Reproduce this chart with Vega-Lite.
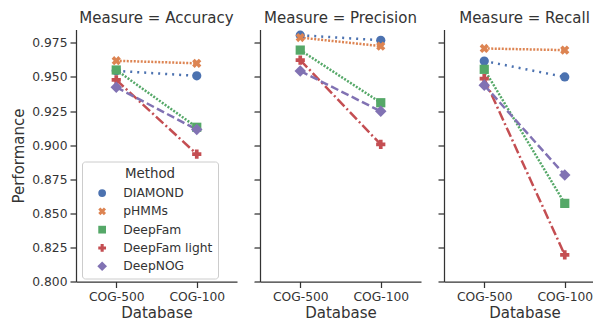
{
  "$schema": "https://vega.github.io/schema/vega-lite/v6.json",
  "background": "white",
  "padding": {"left": 11, "top": 10.5, "right": 0, "bottom": 0},
  "data": {"values": [
    {"Measure": "Accuracy", "Database": "COG-500", "Method": "DIAMOND", "Performance": 0.9545},
    {"Measure": "Accuracy", "Database": "COG-100", "Method": "DIAMOND", "Performance": 0.9508},
    {"Measure": "Accuracy", "Database": "COG-500", "Method": "pHMMs", "Performance": 0.9619},
    {"Measure": "Accuracy", "Database": "COG-100", "Method": "pHMMs", "Performance": 0.9600},
    {"Measure": "Accuracy", "Database": "COG-500", "Method": "DeepFam", "Performance": 0.9551},
    {"Measure": "Accuracy", "Database": "COG-100", "Method": "DeepFam", "Performance": 0.9131},
    {"Measure": "Accuracy", "Database": "COG-500", "Method": "DeepFam light", "Performance": 0.9478},
    {"Measure": "Accuracy", "Database": "COG-100", "Method": "DeepFam light", "Performance": 0.8934},
    {"Measure": "Accuracy", "Database": "COG-500", "Method": "DeepNOG", "Performance": 0.9425},
    {"Measure": "Accuracy", "Database": "COG-100", "Method": "DeepNOG", "Performance": 0.9114},
    {"Measure": "Precision", "Database": "COG-500", "Method": "DIAMOND", "Performance": 0.9806},
    {"Measure": "Precision", "Database": "COG-100", "Method": "DIAMOND", "Performance": 0.9769},
    {"Measure": "Precision", "Database": "COG-500", "Method": "pHMMs", "Performance": 0.9789},
    {"Measure": "Precision", "Database": "COG-100", "Method": "pHMMs", "Performance": 0.9726},
    {"Measure": "Precision", "Database": "COG-500", "Method": "DeepFam", "Performance": 0.9697},
    {"Measure": "Precision", "Database": "COG-100", "Method": "DeepFam", "Performance": 0.9311},
    {"Measure": "Precision", "Database": "COG-500", "Method": "DeepFam light", "Performance": 0.9624},
    {"Measure": "Precision", "Database": "COG-100", "Method": "DeepFam light", "Performance": 0.9005},
    {"Measure": "Precision", "Database": "COG-500", "Method": "DeepNOG", "Performance": 0.9544},
    {"Measure": "Precision", "Database": "COG-100", "Method": "DeepNOG", "Performance": 0.9248},
    {"Measure": "Recall", "Database": "COG-500", "Method": "DIAMOND", "Performance": 0.9617},
    {"Measure": "Recall", "Database": "COG-100", "Method": "DIAMOND", "Performance": 0.9500},
    {"Measure": "Recall", "Database": "COG-500", "Method": "pHMMs", "Performance": 0.9709},
    {"Measure": "Recall", "Database": "COG-100", "Method": "pHMMs", "Performance": 0.9697},
    {"Measure": "Recall", "Database": "COG-500", "Method": "DeepFam", "Performance": 0.9556},
    {"Measure": "Recall", "Database": "COG-100", "Method": "DeepFam", "Performance": 0.8573},
    {"Measure": "Recall", "Database": "COG-500", "Method": "DeepFam light", "Performance": 0.9488},
    {"Measure": "Recall", "Database": "COG-100", "Method": "DeepFam light", "Performance": 0.8195},
    {"Measure": "Recall", "Database": "COG-500", "Method": "DeepNOG", "Performance": 0.9440},
    {"Measure": "Recall", "Database": "COG-100", "Method": "DeepNOG", "Performance": 0.8781}
  ]},
  "spacing": 16,
  "resolve": {"legend": {"color": "independent", "shape": "independent"}},
  "hconcat": [
    {
      "title": "Measure = Accuracy",
      "width": 161, "height": 252,
      "transform": [{"filter": "datum.Measure === 'Accuracy'"}],
      "encoding": {
        "x": {"field": "Database", "type": "nominal", "sort": ["COG-500", "COG-100"], "scale": {"type": "point", "padding": 0.5}, "axis": {"labelAngle": 0, "title": "Database", "titlePadding": 3}},
        "y": {"field": "Performance", "type": "quantitative", "scale": {"domain": [0.8, 0.9848], "nice": false, "zero": false}, "axis": {"values": [0.8, 0.825, 0.85, 0.875, 0.9, 0.925, 0.95, 0.975], "format": ".3f", "title": "Performance"}}
      },
      "layer": [
        {"mark": {"type": "line", "strokeWidth": 2.5},
         "encoding": {
           "stroke": {"field": "Method", "type": "nominal", "scale": {"domain": ["DIAMOND", "pHMMs", "DeepFam", "DeepFam light", "DeepNOG"], "range": ["#4c72b0", "#dd8452", "#55a868", "#c44e52", "#8172b3"]}, "legend": null},
           "strokeDash": {"field": "Method", "type": "nominal", "scale": {"domain": ["DIAMOND", "pHMMs", "DeepFam", "DeepFam light", "DeepNOG"], "range": [[2, 5], [2, 1.5], [2, 1.5], [10, 3, 2, 3], [8, 3.5]]}, "legend": null}
         }},
        {"mark": {"type": "point", "filled": true, "size": 85, "opacity": 1},
         "encoding": {
           "color": {"field": "Method", "type": "nominal", "title": "Method", "scale": {"domain": ["DIAMOND", "pHMMs", "DeepFam", "DeepFam light", "DeepNOG"], "range": ["#4c72b0", "#dd8452", "#55a868", "#c44e52", "#8172b3"]},
             "legend": {"orient": "none", "legendX": 6, "legendY": 132}},
           "shape": {"field": "Method", "type": "nominal", "title": "Method", "scale": {"domain": ["DIAMOND", "pHMMs", "DeepFam", "DeepFam light", "DeepNOG"], "range": ["circle", "M-0.45,-1L0,-0.55L0.45,-1L1,-0.45L0.55,0L1,0.45L0.45,1L0,0.55L-0.45,1L-1,0.45L-0.55,0L-1,-0.45Z", "square", "cross", "M0,-1.25L1.25,0L0,1.25L-1.25,0Z"]},
             "legend": {"orient": "none", "legendX": 6, "legendY": 132}}
         }}
      ]
    },
    {
      "title": "Measure = Precision",
      "width": 161, "height": 252,
      "transform": [{"filter": "datum.Measure === 'Precision'"}],
      "encoding": {
        "x": {"field": "Database", "type": "nominal", "sort": ["COG-500", "COG-100"], "scale": {"type": "point", "padding": 0.5}, "axis": {"labelAngle": 0, "title": "Database", "titlePadding": 3}},
        "y": {"field": "Performance", "type": "quantitative", "scale": {"domain": [0.8, 0.9848], "nice": false, "zero": false}, "axis": {"values": [0.8, 0.825, 0.85, 0.875, 0.9, 0.925, 0.95, 0.975], "labels": false, "title": null}}
      },
      "layer": [
        {"mark": {"type": "line", "strokeWidth": 2.5},
         "encoding": {
           "stroke": {"field": "Method", "type": "nominal", "legend": null},
           "strokeDash": {"field": "Method", "type": "nominal", "legend": null}
         }},
        {"mark": {"type": "point", "filled": true, "size": 85, "opacity": 1},
         "encoding": {
           "color": {"field": "Method", "type": "nominal", "legend": null},
           "shape": {"field": "Method", "type": "nominal", "legend": null}
         }}
      ]
    },
    {
      "title": "Measure = Recall",
      "width": 161, "height": 252,
      "transform": [{"filter": "datum.Measure === 'Recall'"}],
      "encoding": {
        "x": {"field": "Database", "type": "nominal", "sort": ["COG-500", "COG-100"], "scale": {"type": "point", "padding": 0.5}, "axis": {"labelAngle": 0, "title": "Database", "titlePadding": 3}},
        "y": {"field": "Performance", "type": "quantitative", "scale": {"domain": [0.8, 0.9848], "nice": false, "zero": false}, "axis": {"values": [0.8, 0.825, 0.85, 0.875, 0.9, 0.925, 0.95, 0.975], "labels": false, "title": null}}
      },
      "layer": [
        {"mark": {"type": "line", "strokeWidth": 2.5},
         "encoding": {
           "stroke": {"field": "Method", "type": "nominal", "legend": null},
           "strokeDash": {"field": "Method", "type": "nominal", "legend": null}
         }},
        {"mark": {"type": "point", "filled": true, "size": 85, "opacity": 1},
         "encoding": {
           "color": {"field": "Method", "type": "nominal", "legend": null},
           "shape": {"field": "Method", "type": "nominal", "legend": null}
         }}
      ]
    }
  ],
  "config": {
    "font": "DejaVu Sans",
    "view": {"stroke": null},
    "axis": {"grid": false, "domainColor": "#333333", "domainWidth": 1.25, "tickColor": "#333333", "tickWidth": 1.25, "tickSize": 6, "labelColor": "#333333", "labelFontSize": 12.3, "labelPadding": 3, "titleColor": "#333333", "titleFontSize": 15, "titleFontWeight": "normal", "titlePadding": 5},
    "title": {"fontSize": 15, "fontWeight": "normal", "color": "#333333", "offset": 4},
    "legend": {"titleAnchor": "middle", "titleFontSize": 13.4, "titleFontWeight": "normal", "titleColor": "#333333", "titlePadding": 7, "labelFontSize": 12.3, "labelColor": "#333333", "symbolSize": 60, "symbolOffset": 9, "labelOffset": 15, "rowPadding": 5.3, "padding": 5, "fillColor": "rgba(255,255,255,0.8)", "strokeColor": "#cccccc", "cornerRadius": 3, "symbolStrokeWidth": 0}
  }
}
